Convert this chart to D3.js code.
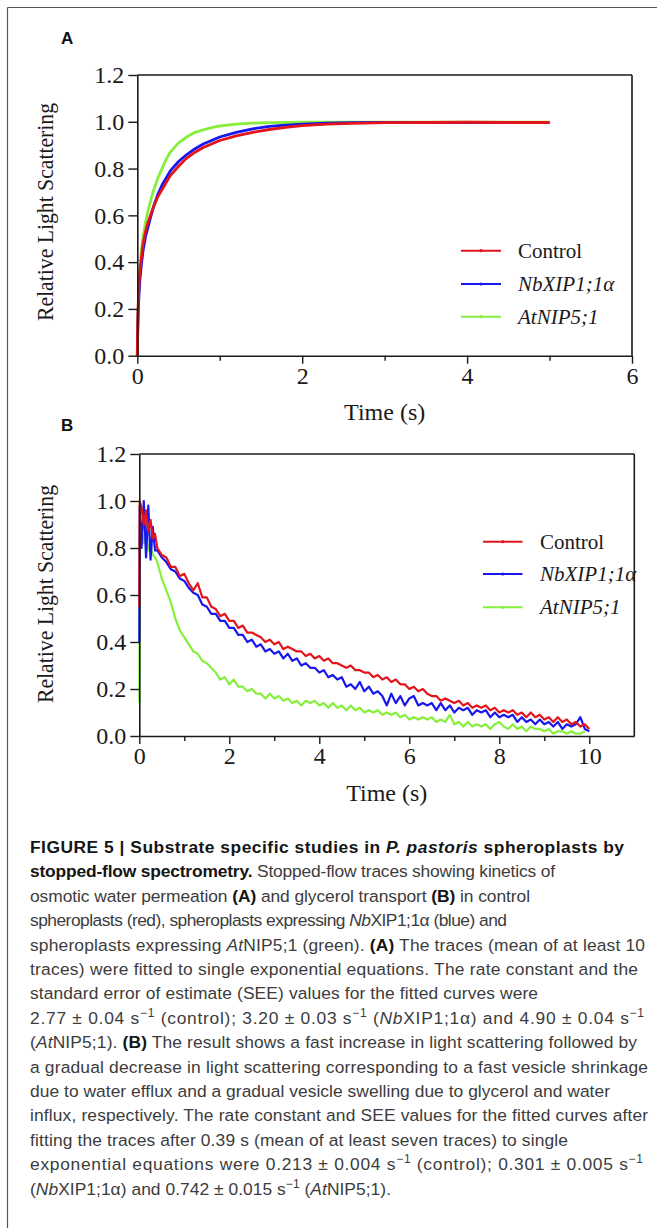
<!DOCTYPE html>
<html><head><meta charset="utf-8">
<script src="https://cdn.jsdelivr.net/npm/d3@7"></script>
<style>html,body{margin:0;padding:0;background:#fff;}svg{display:block;}</style>
</head><body>
<script>
// ---------------- DATA ----------------
const seriesNames = ["Control", "NbXIP1;1α", "AtNIP5;1"];
const seriesColors = ["#e3141c", "#1717ee", "#86ef3c"];
const yTicks = [0, 0.2, 0.4, 0.6, 0.8, 1.0, 1.2];
const xTicksA = [0, 2, 4, 6];
const xMinorA = [1, 3, 5];
const xTicksB = [0, 2, 4, 6, 8, 10];
const xMinorB = [1, 3, 5, 7, 9];

// Panel A: osmotic water permeation (time in s)
const tA = [0, 0.005, 0.01, 0.02, 0.03, 0.05, 0.07, 0.1, 0.13, 0.16, 0.2, 0.25, 0.3, 0.35, 0.4, 0.5, 0.6, 0.7, 0.8, 0.9, 1.0, 1.2, 1.4, 1.6, 1.8, 2.0, 2.3, 2.6, 3.0, 3.5, 4.0, 4.5, 5.0];
const controlA = [0, 0.12, 0.2, 0.3, 0.36, 0.42, 0.48, 0.53, 0.57, 0.6, 0.64, 0.68, 0.71, 0.74, 0.77, 0.81, 0.845, 0.87, 0.89, 0.905, 0.92, 0.94, 0.955, 0.967, 0.976, 0.984, 0.99, 0.993, 0.996, 0.997, 0.998, 0.997, 0.997];
const nbxipA = [0, 0.1, 0.18, 0.26, 0.32, 0.39, 0.45, 0.51, 0.55, 0.59, 0.64, 0.69, 0.73, 0.76, 0.79, 0.83, 0.86, 0.885, 0.905, 0.92, 0.935, 0.955, 0.97, 0.98, 0.986, 0.99, 0.994, 0.996, 0.997, 0.997, 0.996, 0.997, 0.996];
const atnipA = [0, 0.12, 0.2, 0.3, 0.37, 0.45, 0.51, 0.57, 0.62, 0.66, 0.71, 0.76, 0.8, 0.84, 0.87, 0.91, 0.935, 0.955, 0.965, 0.975, 0.982, 0.99, 0.994, 0.996, 0.997, 0.998, 0.998, 0.998, 0.998, 0.998, 0.998, 0.998, 0.998];

// Panel B: glycerol transport (time in s)
const tB = [0, 0.01, 0.05, 0.1, 0.15, 0.2, 0.25, 0.3, 0.35,
  0.4, 0.5, 0.6, 0.7, 0.8, 0.9, 1.0, 1.1, 1.2, 1.3, 1.4, 1.5, 1.6, 1.7, 1.8, 1.9,
  2.0, 2.1, 2.2, 2.3, 2.4, 2.5, 2.6, 2.7, 2.8, 2.9, 3.0, 3.1, 3.2, 3.3, 3.4, 3.5, 3.6, 3.7, 3.8, 3.9,
  4.0, 4.1, 4.2, 4.3, 4.4, 4.5, 4.6, 4.7, 4.8, 4.9, 5.0, 5.1, 5.2, 5.3, 5.4, 5.5, 5.6, 5.7, 5.8, 5.9,
  6.0, 6.1, 6.2, 6.3, 6.4, 6.5, 6.6, 6.7, 6.8, 6.9, 7.0, 7.1, 7.2, 7.3, 7.4, 7.5, 7.6, 7.7, 7.8, 7.9,
  8.0, 8.1, 8.2, 8.3, 8.4, 8.5, 8.6, 8.7, 8.8, 8.9, 9.0, 9.1, 9.2, 9.3, 9.4, 9.5, 9.6, 9.7, 9.8, 9.9, 10.0];
const controlB = [0.55, 1.0, 0.97, 0.9, 0.96, 0.87, 0.92, 0.84, 0.86,
  0.8, 0.77, 0.76, 0.72, 0.72, 0.68, 0.69, 0.65, 0.62, 0.65, 0.59, 0.59, 0.55, 0.54, 0.51, 0.52,
  0.49, 0.49, 0.46, 0.47, 0.44, 0.44, 0.43, 0.42, 0.40, 0.41, 0.39, 0.40, 0.37, 0.38, 0.37, 0.36, 0.36, 0.34, 0.35, 0.33,
  0.34, 0.32, 0.33, 0.31, 0.31, 0.30, 0.29, 0.30, 0.28, 0.28, 0.27, 0.27, 0.25, 0.26, 0.24, 0.25, 0.23, 0.24, 0.22, 0.22,
  0.20, 0.21, 0.19, 0.20, 0.18, 0.17, 0.17, 0.15, 0.16, 0.15, 0.14, 0.15, 0.13, 0.14, 0.12, 0.13, 0.12, 0.13, 0.11, 0.12,
  0.10, 0.11, 0.10, 0.11, 0.09, 0.10, 0.08, 0.10, 0.08, 0.09, 0.07, 0.08, 0.06, 0.08, 0.06, 0.07, 0.05, 0.06, 0.04, 0.05, 0.03];
const nbxipB = [0.40, 0.98, 0.80, 1.0, 0.76, 0.98, 0.75, 0.89, 0.79,
  0.79, 0.76, 0.74, 0.71, 0.70, 0.67, 0.66, 0.63, 0.61, 0.60, 0.56, 0.55, 0.52, 0.52, 0.49, 0.49,
  0.46, 0.46, 0.43, 0.43, 0.40, 0.41, 0.38, 0.39, 0.36, 0.37, 0.35, 0.36, 0.33, 0.35, 0.32, 0.33, 0.30, 0.31, 0.29, 0.29,
  0.27, 0.28, 0.25, 0.26, 0.24, 0.25, 0.21, 0.22, 0.20, 0.23, 0.19, 0.21, 0.18, 0.19, 0.17, 0.13, 0.18, 0.14, 0.17, 0.13,
  0.16, 0.17, 0.13, 0.14, 0.13, 0.14, 0.11, 0.14, 0.11, 0.13, 0.10, 0.12, 0.11, 0.12, 0.09, 0.11, 0.10, 0.11, 0.08, 0.10,
  0.08, 0.09, 0.08, 0.09, 0.06, 0.08, 0.06, 0.07, 0.05, 0.07, 0.05, 0.06, 0.04, 0.06, 0.03, 0.05, 0.04, 0.05, 0.08, 0.03, 0.02];
const atnipB = [0.14, 0.84, 0.88, 0.82, 0.86, 0.79, 0.81, 0.77, 0.76,
  0.74, 0.67, 0.62, 0.57, 0.50, 0.45, 0.42, 0.39, 0.36, 0.35, 0.32, 0.31, 0.29, 0.27, 0.24, 0.25,
  0.22, 0.24, 0.21, 0.21, 0.19, 0.20, 0.18, 0.18, 0.16, 0.18, 0.16, 0.17, 0.15, 0.16, 0.14, 0.15, 0.13, 0.15, 0.14, 0.15,
  0.13, 0.14, 0.12, 0.14, 0.12, 0.13, 0.11, 0.13, 0.11, 0.12, 0.10, 0.11, 0.10, 0.11, 0.09, 0.10, 0.09, 0.10, 0.08, 0.09,
  0.07, 0.08, 0.07, 0.08, 0.07, 0.08, 0.06, 0.07, 0.06, 0.09, 0.05, 0.06, 0.04, 0.06, 0.04, 0.05, 0.04, 0.05, 0.03, 0.05,
  0.06, 0.04, 0.03, 0.05, 0.03, 0.04, 0.02, 0.04, 0.03, 0.03, 0.02, 0.03, 0.01, 0.02, 0.02, 0.01, 0.02, 0.01, 0.01, 0.02, null];

// Caption lines: [text, style] where style b=bold, i=italic, bi=bold italic, sup=superscript
const captionLines = [
  [["FIGURE 5 | Substrate specific studies in ", "b"], ["P. pastoris", "bi"], [" spheroplasts by", "b"]],
  [["stopped-flow spectrometry.", "b"], [" Stopped-flow traces showing kinetics of", ""]],
  [["osmotic water permeation ", ""], ["(A)", "b"], [" and glycerol transport ", ""], ["(B)", "b"], [" in control", ""]],
  [["spheroplasts (red), spheroplasts expressing ", ""], ["Nb", "i"], ["XIP1;1α (blue) and", ""]],
  [["spheroplasts expressing ", ""], ["At", "i"], ["NIP5;1 (green). ", ""], ["(A)", "b"], [" The traces (mean of at least 10", ""]],
  [["traces) were fitted to single exponential equations. The rate constant and the", ""]],
  [["standard error of estimate (SEE) values for the fitted curves were", ""]],
  [["2.77 ± 0.04 s", ""], ["−1", "sup"], [" (control); 3.20 ± 0.03 s", ""], ["−1", "sup"], [" (", ""], ["Nb", "i"], ["XIP1;1α) and 4.90 ± 0.04 s", ""], ["−1", "sup"]],
  [["(", ""], ["At", "i"], ["NIP5;1). ", ""], ["(B)", "b"], [" The result shows a fast increase in light scattering followed by", ""]],
  [["a gradual decrease in light scattering corresponding to a fast vesicle shrinkage", ""]],
  [["due to water efflux and a gradual vesicle swelling due to glycerol and water", ""]],
  [["influx, respectively. The rate constant and SEE values for the fitted curves after", ""]],
  [["fitting the traces after 0.39 s (mean of at least seven traces) to single", ""]],
  [["exponential equations were 0.213 ± 0.004 s", ""], ["−1", "sup"], [" (control); 0.301 ± 0.005 s", ""], ["−1", "sup"]],
  [["(", ""], ["Nb", "i"], ["XIP1;1α) and 0.742 ± 0.015 s", ""], ["−1", "sup"], [" (", ""], ["At", "i"], ["NIP5;1).", ""]]
];
// right end (px) of each caption line
const captionLineEnds = [624, 555, 530, 507, 645, 638, 538, 644, 637, 648, 610, 648, 568, 643, 391];

// ---------------- DRAW ----------------
const W = 657, H = 1228;
const svg = d3.select("body").append("svg").attr("width", W).attr("height", H);
svg.append("rect").attr("width", W).attr("height", H).attr("fill", "#fff");

svg.append("line").attr("x1", 7.5).attr("x2", W).attr("y1", 7.5).attr("y2", 7.5).attr("stroke", "#555").attr("stroke-width", 1.2);
svg.append("line").attr("x1", 7.5).attr("x2", 7.5).attr("y1", 7.5).attr("y2", H).attr("stroke", "#555").attr("stroke-width", 1.2);

const serif = "'Liberation Serif', 'Times New Roman', serif";
const sans = "'Liberation Sans', Arial, sans-serif";

function drawPanel(cfg) {
  const x = d3.scaleLinear().domain(cfg.xDomain).range(cfg.xRange);
  const y = d3.scaleLinear().domain([0, 1.2]).range(cfg.yRange);
  const g = svg.append("g");

  svg.append("text").attr("x", cfg.letterX).attr("y", cfg.letterY)
    .attr("font-family", sans).attr("font-weight", "bold").attr("font-size", 17).attr("fill", "#111")
    .text(cfg.letter);

  const line = d3.line().defined(d => d[1] != null).x(d => x(d[0])).y(d => y(d[1]));
  [2, 1, 0].forEach(i => {
    const data = cfg.times.map((t, k) => [t, cfg.series[i][k]]);
    g.append("path").attr("d", line(data)).attr("fill", "none")
      .attr("stroke", seriesColors[i]).attr("stroke-width", cfg.strokeW).attr("stroke-linejoin", "round");
  });

  const [x0, x1] = cfg.xRange, [yb, yt] = cfg.yRange;
  g.append("line").attr("x1", x0).attr("x2", x1).attr("y1", yt).attr("y2", yt).attr("stroke", "#1a1a1a").attr("stroke-width", 1.6);
  g.append("line").attr("x1", x1).attr("x2", x1).attr("y1", yt).attr("y2", yb).attr("stroke", "#1a1a1a").attr("stroke-width", 1.6);

  g.append("g").attr("transform", `translate(0,${yb})`)
    .call(d3.axisBottom(x).tickValues(cfg.xTicks).tickFormat(d3.format("d")).tickSize(8).tickPadding(3).tickSizeOuter(0));
  g.append("g").attr("transform", `translate(0,${yb})`)
    .call(d3.axisBottom(x).tickValues(cfg.xMinor).tickFormat("").tickSize(5).tickSizeOuter(0))
    .select(".domain").remove();
  g.append("g").attr("transform", `translate(${x0},0)`)
    .call(d3.axisLeft(y).tickValues(yTicks).tickFormat(d3.format(".1f")).tickSize(9).tickPadding(4).tickSizeOuter(0));
  g.selectAll(".domain").attr("stroke", "#1a1a1a").attr("stroke-width", 1.6);
  g.selectAll(".tick line").attr("stroke", "#1a1a1a").attr("stroke-width", 1.4);
  g.selectAll(".tick text").attr("font-family", serif).attr("font-size", 24).attr("fill", "#1a1a1a");

  svg.append("text").attr("x", (x0 + x1) / 2).attr("y", cfg.xTitleY).attr("text-anchor", "middle")
    .attr("font-family", serif).attr("font-size", 24).attr("fill", "#1a1a1a").text("Time (s)");
  svg.append("text").attr("transform", `translate(${cfg.yTitleX},${cfg.yTitleY}) rotate(-90)`)
    .attr("text-anchor", "middle").attr("font-family", serif).attr("font-size", 24)
    .attr("textLength", 218).attr("lengthAdjust", "spacingAndGlyphs")
    .attr("fill", "#1a1a1a").text("Relative Light Scattering");

  seriesNames.forEach((name, i) => {
    const ly = cfg.legendY[i];
    g.append("line").attr("x1", cfg.legendX[0]).attr("x2", cfg.legendX[1]).attr("y1", ly).attr("y2", ly)
      .attr("stroke", seriesColors[i]).attr("stroke-width", 2);
    g.append("circle").attr("cx", (cfg.legendX[0] + cfg.legendX[1]) / 2).attr("cy", ly).attr("r", 1.6)
      .attr("fill", seriesColors[i]);
    g.append("text").attr("x", cfg.legendX[2]).attr("y", ly).attr("dy", "0.33em")
      .attr("font-family", serif).attr("font-size", 21).attr("font-style", i === 0 ? "normal" : "italic")
      .attr("fill", "#1a1a1a").text(name);
  });
}

drawPanel({
  letter: "A", letterX: 61, letterY: 44,
  xDomain: [0, 6], xRange: [137.3, 632], yRange: [355.7, 75],
  xTicks: xTicksA, xMinor: xMinorA,
  times: tA, series: [controlA, nbxipA, atnipA], strokeW: 2.8,
  xTitleY: 420, yTitleX: 53, yTitleY: 212,
  legendX: [461, 501, 518], legendY: [250.7, 284, 316.7]
});

drawPanel({
  letter: "B", letterX: 61, letterY: 431,
  xDomain: [0, 11], xRange: [139.3, 634.3], yRange: [736, 454],
  xTicks: xTicksB, xMinor: xMinorB,
  times: tB, series: [controlB, nbxipB, atnipB], strokeW: 2.2,
  xTitleY: 801, yTitleX: 53, yTitleY: 594,
  legendX: [483, 522.5, 540], legendY: [541.7, 574, 607.3]
});

// caption
const capX = 30;
const cap = svg.append("g").attr("font-family", sans).attr("font-size", 17.4);
captionLines.forEach((segs, li) => {
  const t = cap.append("text").attr("x", capX).attr("y", 853 + li * 24.4).attr("fill", "#3c3c3c")
    .attr("textLength", captionLineEnds[li] - capX).attr("lengthAdjust", "spacing");
  let raised = false;
  segs.forEach(([txt, st]) => {
    const ts = t.append("tspan").text(txt);
    if (st === "b" || st === "bi") ts.attr("font-weight", "bold").attr("fill", "#151515");
    if (st === "i" || st === "bi") ts.attr("font-style", "italic");
    if (st === "sup") { ts.attr("font-size", 12).attr("dy", -7); raised = true; }
    else if (raised) { ts.attr("dy", 7); raised = false; }
  });
});
</script>
</body></html>
